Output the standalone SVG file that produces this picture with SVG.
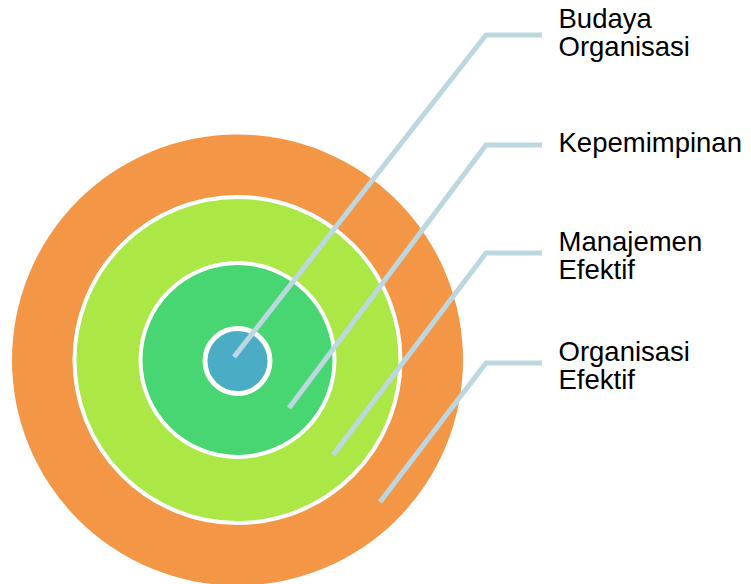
<svg xmlns="http://www.w3.org/2000/svg" width="751" height="584" viewBox="0 0 751 584">
  <style>
    .ring { stroke: #ffffff; }
    .lead { fill: none; stroke: #BDD7E0; stroke-width: 5; stroke-linejoin: miter; }
    .label { font-family: "Liberation Sans", Arial, sans-serif; font-size: 27.5px; fill: #000000; }
  </style>
  <rect width="751" height="584" fill="#ffffff"/>

  <!-- concentric layers, outermost first -->
  <g id="organisasi-efektif">
    <circle cx="237.5" cy="360" r="225.5" fill="#F39646"/>
  </g>
  <g id="manajemen-efektif">
    <circle class="ring" cx="237.5" cy="360" r="163" fill="#ABE845" stroke-width="4"/>
  </g>
  <g id="kepemimpinan">
    <circle class="ring" cx="237.5" cy="360" r="97" fill="#48D672" stroke-width="4"/>
  </g>
  <g id="budaya-organisasi">
    <circle class="ring" cx="237.5" cy="361" r="32.5" fill="#4BACC6" stroke-width="5"/>
  </g>

  <!-- leader lines from each layer to its label -->
  <g id="connectors">
    <polyline class="lead" points="234,357 486,35 542,35"/>
    <polyline class="lead" points="289,408 486,145 542,145"/>
    <polyline class="lead" points="333,455 486,253 542,253"/>
    <polyline class="lead" points="380,502 486,363 542,363"/>
  </g>

  <!-- labels -->
  <g id="label-budaya-organisasi">
    <text class="label" x="558.5" y="28">Budaya</text>
    <text class="label" x="558.5" y="56">Organisasi</text>
  </g>
  <g id="label-kepemimpinan">
    <text class="label" x="558.5" y="152">Kepemimpinan</text>
  </g>
  <g id="label-manajemen-efektif">
    <text class="label" x="558.5" y="251">Manajemen</text>
    <text class="label" x="558.5" y="279">Efektif</text>
  </g>
  <g id="label-organisasi-efektif">
    <text class="label" x="558.5" y="361">Organisasi</text>
    <text class="label" x="558.5" y="389">Efektif</text>
  </g>
</svg>
